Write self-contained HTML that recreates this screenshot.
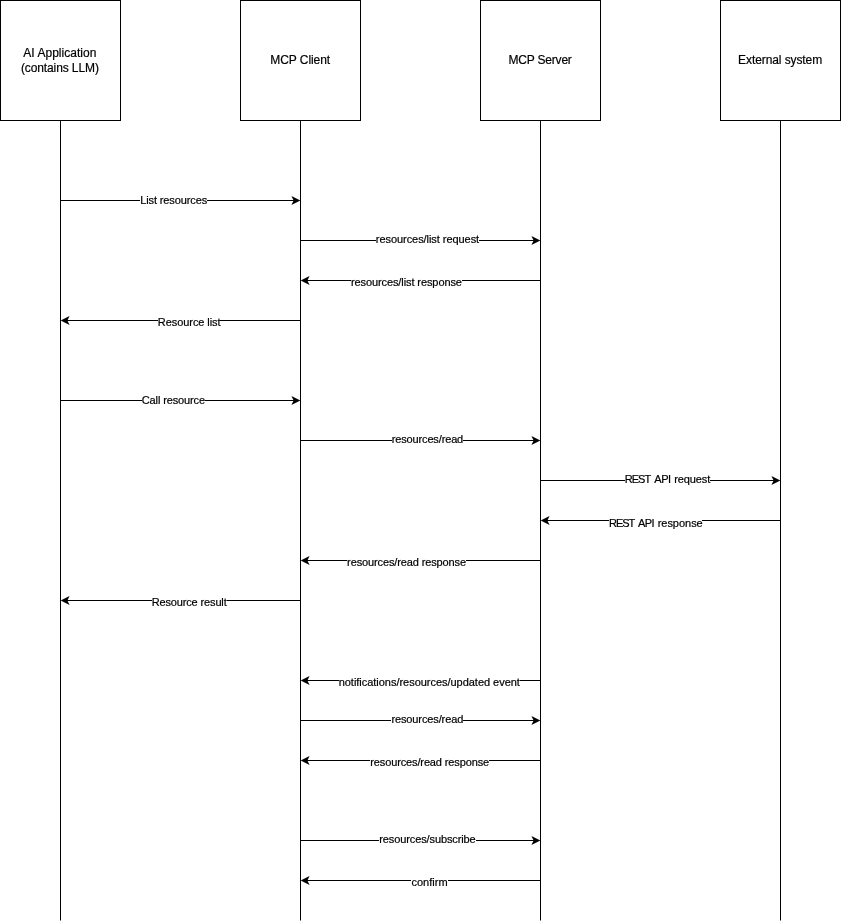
<!DOCTYPE html>
<html><head><meta charset="utf-8"><title>MCP resources sequence</title>
<style>
html,body{margin:0;padding:0;background:#fff;}
body{width:841px;height:922px;overflow:hidden;position:relative;font-family:"Liberation Sans",sans-serif;color:#000;}
#w{-webkit-text-stroke:0.2px #000;position:absolute;left:0;top:0;width:841px;height:922px;will-change:transform;}
svg{position:absolute;left:0;top:0;}
.t{position:absolute;height:14px;line-height:14px;font-size:12px;white-space:nowrap;text-align:center;}
.l{position:absolute;height:13px;line-height:13px;font-size:11px;white-space:nowrap;text-align:center;background:#fff;}
</style></head><body><div id="w">
<svg width="841" height="922" viewBox="0 0 841 922">
<g transform="translate(0.5,0.5)" stroke="#000" stroke-width="1" fill="none" stroke-miterlimit="10">
<rect x="0" y="0" width="120" height="120" fill="#fff"/>
<path d="M 60 120 L 60 920"/>
<rect x="240" y="0" width="120" height="120" fill="#fff"/>
<path d="M 300 120 L 300 920"/>
<rect x="480" y="0" width="120" height="120" fill="#fff"/>
<path d="M 540 120 L 540 920"/>
<rect x="720" y="0" width="120" height="120" fill="#fff"/>
<path d="M 780 120 L 780 920"/>
<path d="M 60 200 L 293.63 200"/>
<path d="M 299.86 200 L 290.90 204.48 L 293.14 200 L 290.90 195.52 Z" fill="#000" stroke="none"/>
<path d="M 300 240 L 533.63 240"/>
<path d="M 539.86 240 L 530.90 244.48 L 533.14 240 L 530.90 235.52 Z" fill="#000" stroke="none"/>
<path d="M 540 280 L 306.37 280"/>
<path d="M 300.14 280 L 309.10 275.52 L 306.86 280 L 309.10 284.48 Z" fill="#000" stroke="none"/>
<path d="M 300 320 L 66.37 320"/>
<path d="M 60.14 320 L 69.10 315.52 L 66.86 320 L 69.10 324.48 Z" fill="#000" stroke="none"/>
<path d="M 60 400 L 293.63 400"/>
<path d="M 299.86 400 L 290.90 404.48 L 293.14 400 L 290.90 395.52 Z" fill="#000" stroke="none"/>
<path d="M 300 440 L 533.63 440"/>
<path d="M 539.86 440 L 530.90 444.48 L 533.14 440 L 530.90 435.52 Z" fill="#000" stroke="none"/>
<path d="M 540 480 L 773.63 480"/>
<path d="M 779.86 480 L 770.90 484.48 L 773.14 480 L 770.90 475.52 Z" fill="#000" stroke="none"/>
<path d="M 780 520 L 546.37 520"/>
<path d="M 540.14 520 L 549.10 515.52 L 546.86 520 L 549.10 524.48 Z" fill="#000" stroke="none"/>
<path d="M 540 560 L 306.37 560"/>
<path d="M 300.14 560 L 309.10 555.52 L 306.86 560 L 309.10 564.48 Z" fill="#000" stroke="none"/>
<path d="M 300 600 L 66.37 600"/>
<path d="M 60.14 600 L 69.10 595.52 L 66.86 600 L 69.10 604.48 Z" fill="#000" stroke="none"/>
<path d="M 540 680 L 306.37 680"/>
<path d="M 300.14 680 L 309.10 675.52 L 306.86 680 L 309.10 684.48 Z" fill="#000" stroke="none"/>
<path d="M 300 720 L 533.63 720"/>
<path d="M 539.86 720 L 530.90 724.48 L 533.14 720 L 530.90 715.52 Z" fill="#000" stroke="none"/>
<path d="M 540 760 L 306.37 760"/>
<path d="M 300.14 760 L 309.10 755.52 L 306.86 760 L 309.10 764.48 Z" fill="#000" stroke="none"/>
<path d="M 300 840 L 533.63 840"/>
<path d="M 539.86 840 L 530.90 844.48 L 533.14 840 L 530.90 835.52 Z" fill="#000" stroke="none"/>
<path d="M 540 880 L 306.37 880"/>
<path d="M 300.14 880 L 309.10 875.52 L 306.86 880 L 309.10 884.48 Z" fill="#000" stroke="none"/>
</g></svg>
<div class="t" style="left:23.30px;top:46px;width:73.20px;letter-spacing:0.034px;">AI Application</div>
<div class="t" style="left:20.90px;top:61px;width:77.90px;letter-spacing:-0.105px;">(contains LLM)</div>
<div class="t" style="left:270.30px;top:53px;width:59.80px;letter-spacing:-0.067px;">MCP Client</div>
<div class="t" style="left:508.40px;top:53px;width:63.30px;letter-spacing:-0.184px;">MCP Server</div>
<div class="t" style="left:738.10px;top:53px;width:84.00px;letter-spacing:-0.091px;">External system</div>
<div class="l" style="left:140.20px;top:194px;width:66.90px;letter-spacing:-0.113px;">List resources</div>
<div class="l" style="left:375.80px;top:233px;width:103.30px;letter-spacing:-0.057px;">resources/list request</div>
<div class="l" style="left:350.90px;top:276px;width:111.00px;letter-spacing:-0.092px;">resources/list response</div>
<div class="l" style="left:157.85px;top:316px;width:62.65px;letter-spacing:-0.071px;">Resource list</div>
<div class="l" style="left:141.80px;top:394px;width:63.10px;letter-spacing:-0.132px;">Call resource</div>
<div class="l" style="left:391.70px;top:433px;width:71.40px;letter-spacing:-0.141px;">resources/read</div>
<div class="l" style="left:624.50px;top:473px;width:85.80px;letter-spacing:-0.205px;"><span style="letter-spacing:-0.955px">REST</span><span style="letter-spacing:1.115px"> </span><span style="letter-spacing:-0.505px">API</span><span style="letter-spacing:0.695px"> </span><span style="letter-spacing:-0.125px">request</span></div>
<div class="l" style="left:609.00px;top:517px;width:93.10px;letter-spacing:-0.266px;"><span style="letter-spacing:-1.016px">REST</span><span style="letter-spacing:0.554px"> </span><span style="letter-spacing:-0.566px">API</span><span style="letter-spacing:0.634px"> </span><span style="letter-spacing:-0.026px">response</span></div>
<div class="l" style="left:347.10px;top:556px;width:118.90px;letter-spacing:-0.121px;">resources/read response</div>
<div class="l" style="left:151.65px;top:596px;width:74.95px;letter-spacing:-0.140px;">Resource result</div>
<div class="l" style="left:338.70px;top:676px;width:181.20px;letter-spacing:-0.028px;">notifications/resources/updated event</div>
<div class="l" style="left:391.40px;top:713px;width:71.80px;letter-spacing:-0.112px;">resources/read</div>
<div class="l" style="left:370.30px;top:756px;width:118.70px;letter-spacing:-0.130px;">resources/read response</div>
<div class="l" style="left:379.30px;top:833px;width:96.30px;letter-spacing:-0.112px;">resources/subscribe</div>
<div class="l" style="left:411.40px;top:876px;width:36.40px;letter-spacing:0.048px;">confirm</div>
</div></body></html>
